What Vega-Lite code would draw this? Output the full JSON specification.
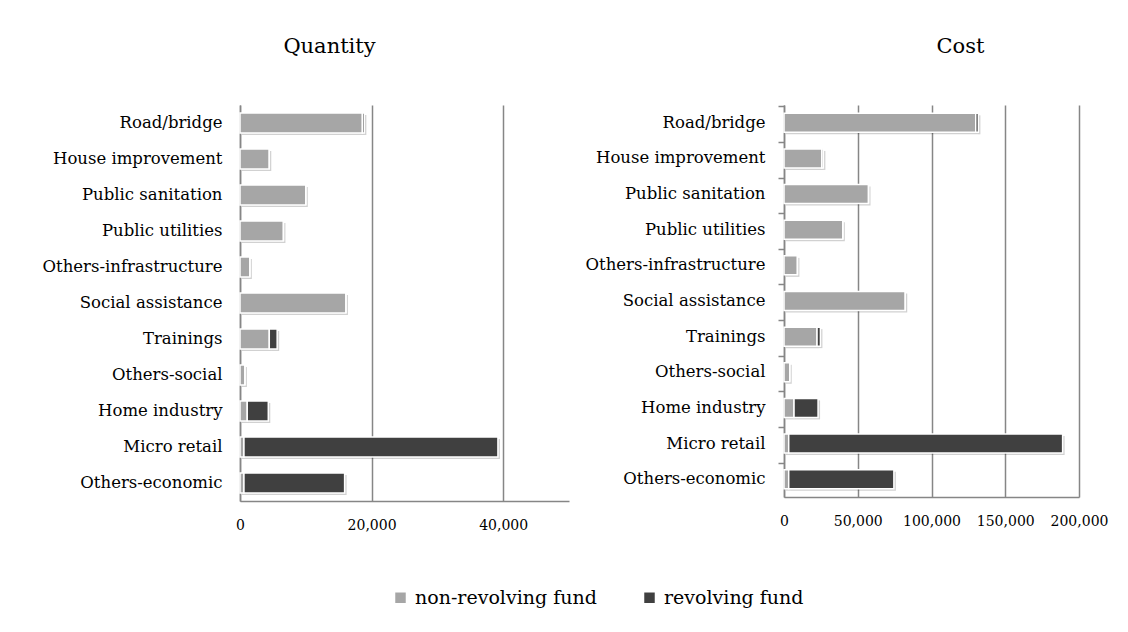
{
  "$schema": "https://vega.github.io/schema/vega-lite/v6.json",
  "background": "white",
  "padding": {"left": 42, "top": 36, "right": 10, "bottom": 10},
  "datasets": {
    "funds": [
      {"measure": "Quantity", "category": "Road/bridge", "fund": "non-revolving fund", "value": 18600},
      {"measure": "Quantity", "category": "Road/bridge", "fund": "revolving fund", "value": 300},
      {"measure": "Quantity", "category": "House improvement", "fund": "non-revolving fund", "value": 4450},
      {"measure": "Quantity", "category": "House improvement", "fund": "revolving fund", "value": 0},
      {"measure": "Quantity", "category": "Public sanitation", "fund": "non-revolving fund", "value": 10000},
      {"measure": "Quantity", "category": "Public sanitation", "fund": "revolving fund", "value": 0},
      {"measure": "Quantity", "category": "Public utilities", "fund": "non-revolving fund", "value": 6600},
      {"measure": "Quantity", "category": "Public utilities", "fund": "revolving fund", "value": 0},
      {"measure": "Quantity", "category": "Others-infrastructure", "fund": "non-revolving fund", "value": 1500},
      {"measure": "Quantity", "category": "Others-infrastructure", "fund": "revolving fund", "value": 0},
      {"measure": "Quantity", "category": "Social assistance", "fund": "non-revolving fund", "value": 16100},
      {"measure": "Quantity", "category": "Social assistance", "fund": "revolving fund", "value": 0},
      {"measure": "Quantity", "category": "Trainings", "fund": "non-revolving fund", "value": 4450},
      {"measure": "Quantity", "category": "Trainings", "fund": "revolving fund", "value": 1200},
      {"measure": "Quantity", "category": "Others-social", "fund": "non-revolving fund", "value": 750},
      {"measure": "Quantity", "category": "Others-social", "fund": "revolving fund", "value": 0},
      {"measure": "Quantity", "category": "Home industry", "fund": "non-revolving fund", "value": 1100},
      {"measure": "Quantity", "category": "Home industry", "fund": "revolving fund", "value": 3200},
      {"measure": "Quantity", "category": "Micro retail", "fund": "non-revolving fund", "value": 600},
      {"measure": "Quantity", "category": "Micro retail", "fund": "revolving fund", "value": 38600},
      {"measure": "Quantity", "category": "Others-economic", "fund": "non-revolving fund", "value": 600},
      {"measure": "Quantity", "category": "Others-economic", "fund": "revolving fund", "value": 15300},
      {"measure": "Cost", "category": "Road/bridge", "fund": "non-revolving fund", "value": 130000},
      {"measure": "Cost", "category": "Road/bridge", "fund": "revolving fund", "value": 1800},
      {"measure": "Cost", "category": "House improvement", "fund": "non-revolving fund", "value": 25600},
      {"measure": "Cost", "category": "House improvement", "fund": "revolving fund", "value": 1100},
      {"measure": "Cost", "category": "Public sanitation", "fund": "non-revolving fund", "value": 57300},
      {"measure": "Cost", "category": "Public sanitation", "fund": "revolving fund", "value": 0},
      {"measure": "Cost", "category": "Public utilities", "fund": "non-revolving fund", "value": 39900},
      {"measure": "Cost", "category": "Public utilities", "fund": "revolving fund", "value": 0},
      {"measure": "Cost", "category": "Others-infrastructure", "fund": "non-revolving fund", "value": 9100},
      {"measure": "Cost", "category": "Others-infrastructure", "fund": "revolving fund", "value": 0},
      {"measure": "Cost", "category": "Social assistance", "fund": "non-revolving fund", "value": 82200},
      {"measure": "Cost", "category": "Social assistance", "fund": "revolving fund", "value": 0},
      {"measure": "Cost", "category": "Trainings", "fund": "non-revolving fund", "value": 22400},
      {"measure": "Cost", "category": "Trainings", "fund": "revolving fund", "value": 2300},
      {"measure": "Cost", "category": "Others-social", "fund": "non-revolving fund", "value": 3900},
      {"measure": "Cost", "category": "Others-social", "fund": "revolving fund", "value": 0},
      {"measure": "Cost", "category": "Home industry", "fund": "non-revolving fund", "value": 6800},
      {"measure": "Cost", "category": "Home industry", "fund": "revolving fund", "value": 16300},
      {"measure": "Cost", "category": "Micro retail", "fund": "non-revolving fund", "value": 3200},
      {"measure": "Cost", "category": "Micro retail", "fund": "revolving fund", "value": 185700},
      {"measure": "Cost", "category": "Others-economic", "fund": "non-revolving fund", "value": 3200},
      {"measure": "Cost", "category": "Others-economic", "fund": "revolving fund", "value": 71300}
    ]
  },
  "config": {
    "font": "DejaVu Serif",
    "view": {"stroke": null},
    "axis": {
      "labelFont": "DejaVu Serif",
      "labelColor": "#000000",
      "labelLimit": 0,
      "domainColor": "#868686",
      "domainWidth": 1.5,
      "gridColor": "#868686",
      "gridWidth": 1.5,
      "tickColor": "#868686",
      "tickWidth": 1.5
    },
    "title": {"font": "DejaVu Serif", "fontSize": 21, "fontWeight": "normal", "color": "#000000", "frame": "group"},
    "legend": {"labelFont": "DejaVu Serif", "labelFontSize": 19, "labelColor": "#000000", "labelLimit": 0}
  },
  "spacing": 16,
  "hconcat": [
    {
      "title": {"text": "Quantity", "offset": 48, "dx": -75},
      "width": 329,
      "height": 396,
      "data": {"name": "funds"},
      "transform": [{"filter": "datum.measure === 'Quantity'"}],
      "encoding": {
        "y": {
          "field": "category",
          "type": "nominal",
          "title": null,
          "sort": ["Road/bridge", "House improvement", "Public sanitation", "Public utilities", "Others-infrastructure", "Social assistance", "Trainings", "Others-social", "Home industry", "Micro retail", "Others-economic"],
          "axis": {"ticks": false, "labelFontSize": 16.5, "labelPadding": 18}
        },
        "x": {
          "field": "value",
          "type": "quantitative",
          "aggregate": "sum",
          "stack": "zero",
          "title": null,
          "scale": {"domain": [0, 50000], "nice": false},
          "axis": {"values": [0, 20000, 40000], "format": ",.0f", "grid": true, "ticks": false, "labelFontSize": 14, "labelPadding": 17, "labelFlush": false}
        },
        "order": {"field": "fund", "sort": "ascending"}
      },
      "layer": [
        {"mark": {"type": "bar", "size": 20, "color": "#000000", "opacity": 0.18, "xOffset": 2, "yOffset": 2}},
        {
          "mark": {"type": "bar", "size": 20, "stroke": "white", "strokeWidth": 1.5},
          "encoding": {
            "color": {
              "field": "fund",
              "type": "nominal",
              "scale": {"domain": ["non-revolving fund", "revolving fund"], "range": ["#a6a6a6", "#404040"]},
              "legend": {"orient": "none", "direction": "horizontal", "legendX": 151, "legendY": 483, "title": null, "symbolType": "square", "symbolSize": 110, "symbolStrokeWidth": 0, "labelOffset": 5, "columnPadding": 43}
            }
          }
        }
      ]
    },
    {
      "title": {"text": "Cost", "offset": 48, "dx": 29},
      "width": 295,
      "height": 392,
      "data": {"name": "funds"},
      "transform": [{"filter": "datum.measure === 'Cost'"}],
      "encoding": {
        "y": {
          "field": "category",
          "type": "nominal",
          "title": null,
          "sort": ["Road/bridge", "House improvement", "Public sanitation", "Public utilities", "Others-infrastructure", "Social assistance", "Trainings", "Others-social", "Home industry", "Micro retail", "Others-economic"],
          "axis": {"ticks": true, "tickSize": 6, "bandPosition": 0, "labelFontSize": 16.5, "labelPadding": 13}
        },
        "x": {
          "field": "value",
          "type": "quantitative",
          "aggregate": "sum",
          "stack": "zero",
          "title": null,
          "scale": {"domain": [0, 200000], "nice": false},
          "axis": {"values": [0, 50000, 100000, 150000, 200000], "format": ",.0f", "grid": true, "ticks": false, "labelFontSize": 14, "labelPadding": 17, "labelFlush": false}
        },
        "order": {"field": "fund", "sort": "ascending"}
      },
      "layer": [
        {"mark": {"type": "bar", "size": 19, "color": "#000000", "opacity": 0.18, "xOffset": 2, "yOffset": 2}},
        {
          "mark": {"type": "bar", "size": 19, "stroke": "white", "strokeWidth": 1.5},
          "encoding": {
            "color": {"field": "fund", "type": "nominal"}
          }
        }
      ]
    }
  ]
}
